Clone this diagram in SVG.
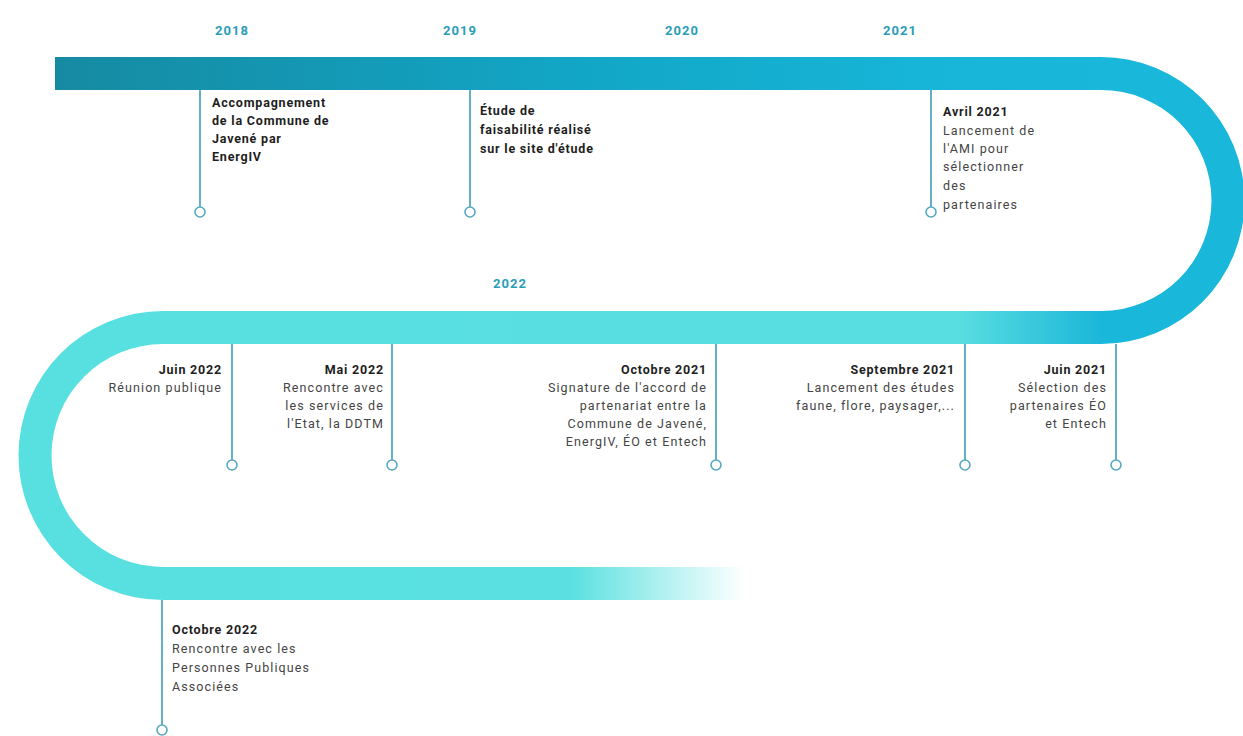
<svg xmlns="http://www.w3.org/2000/svg" width="1243" height="736" viewBox="0 0 1243 736">
<defs>
<linearGradient id="gTop" gradientUnits="userSpaceOnUse" x1="55" y1="0" x2="1101" y2="0">
<stop offset="0" stop-color="#168aa2"/>
<stop offset="0.5" stop-color="#12a6c6"/>
<stop offset="0.85" stop-color="#17b6d9"/>
<stop offset="1" stop-color="#19b7da"/>
</linearGradient>
<linearGradient id="gMid" gradientUnits="userSpaceOnUse" x1="163" y1="0" x2="1101" y2="0">
<stop offset="0" stop-color="#58e0e0"/>
<stop offset="0.85" stop-color="#58dde1"/>
<stop offset="0.92" stop-color="#3ccbdd"/>
<stop offset="1" stop-color="#1bb6d9"/>
</linearGradient>
<linearGradient id="gBot" gradientUnits="userSpaceOnUse" x1="163" y1="0" x2="745" y2="0">
<stop offset="0" stop-color="#58e0e0"/>
<stop offset="0.7" stop-color="#5ae0e0"/>
<stop offset="1" stop-color="#5ae0e0" stop-opacity="0"/>
</linearGradient>
</defs>
<style>
.yr{font-family:Roboto,"Liberation Sans",sans-serif;font-weight:700;font-size:13px;letter-spacing:1px;fill:#2a9db7}
.b{font-family:Roboto,"Liberation Sans",sans-serif;font-weight:700;font-size:12.5px;letter-spacing:0.8px;fill:#1e1e1e}
.r{font-family:Roboto,"Liberation Sans",sans-serif;font-weight:400;font-size:12.5px;letter-spacing:1.1px;fill:#444}
.e{text-anchor:end}
.ln{stroke:#3d9db6;stroke-width:1.6;fill:none}
.dot{fill:#fff;stroke:#56a8bf;stroke-width:1.6}
</style>
<g id="track">
<rect x="55" y="57" width="1046" height="33" fill="url(#gTop)"/>
<path d="M1101,57 A143.5,143.5 0 0 1 1101,344 L1101,311 A110.5,110.5 0 0 0 1101,90 Z" fill="#19b7da"/>
<rect x="163" y="311" width="938" height="33" fill="url(#gMid)"/>
<path d="M163,311 A144.5,144.5 0 0 0 163,600 L163,567 A111.5,111.5 0 0 1 163,344 Z" fill="#58e0e0"/>
<rect x="163" y="567" width="582" height="33" fill="url(#gBot)"/>
</g>
<g id="years">
<text class="yr" x="232" y="35" text-anchor="middle">2018</text>
<text class="yr" x="460" y="35" text-anchor="middle">2019</text>
<text class="yr" x="682" y="35" text-anchor="middle">2020</text>
<text class="yr" x="900" y="35" text-anchor="middle">2021</text>
<text class="yr" x="510" y="288" text-anchor="middle">2022</text>
</g>
<g id="connectors">
<line class="ln" x1="200" y1="90" x2="200" y2="207"/>
<line class="ln" x1="470" y1="90" x2="470" y2="207"/>
<line class="ln" x1="931" y1="90" x2="931" y2="207"/>
<line class="ln" x1="232" y1="344" x2="232" y2="460"/>
<line class="ln" x1="392" y1="344" x2="392" y2="460"/>
<line class="ln" x1="716" y1="344" x2="716" y2="460"/>
<line class="ln" x1="965" y1="344" x2="965" y2="460"/>
<line class="ln" x1="1116" y1="344" x2="1116" y2="460"/>
<line class="ln" x1="162" y1="600" x2="162" y2="725"/>
</g>
<g id="ev2018">
<circle class="dot" cx="200" cy="212" r="5"/>
<text class="b" x="212" y="107">Accompagnement</text>
<text class="b" x="212" y="125">de la Commune de</text>
<text class="b" x="212" y="143">Javené par</text>
<text class="b" x="212" y="161">EnergIV</text>
</g>
<g id="ev2019">
<circle class="dot" cx="470" cy="212" r="5"/>
<text class="b" x="480" y="115">Étude de</text>
<text class="b" x="480" y="134">faisabilité réalisé</text>
<text class="b" x="480" y="153">sur le site d'étude</text>
</g>
<g id="evAvril2021">
<circle class="dot" cx="931" cy="212" r="5"/>
<text class="b" x="943" y="116">Avril 2021</text>
<text class="r" x="943" y="135">Lancement de</text>
<text class="r" x="943" y="153">l'AMI pour</text>
<text class="r" x="943" y="171">sélectionner</text>
<text class="r" x="943" y="190">des</text>
<text class="r" x="943" y="209">partenaires</text>
</g>
<g id="evJuin2022">
<circle class="dot" cx="232" cy="465" r="5"/>
<text class="b e" x="222" y="374">Juin 2022</text>
<text class="r e" x="222" y="392">Réunion publique</text>
</g>
<g id="evMai2022">
<circle class="dot" cx="392" cy="465" r="5"/>
<text class="b e" x="384" y="374">Mai 2022</text>
<text class="r e" x="384" y="392">Rencontre avec</text>
<text class="r e" x="384" y="410">les services de</text>
<text class="r e" x="384" y="428">l'Etat, la DDTM</text>
</g>
<g id="evOct2021">
<circle class="dot" cx="716" cy="465" r="5"/>
<text class="b e" x="707" y="374">Octobre 2021</text>
<text class="r e" x="707" y="392">Signature de l'accord de</text>
<text class="r e" x="707" y="410">partenariat entre la</text>
<text class="r e" x="707" y="428">Commune de Javené,</text>
<text class="r e" x="707" y="446">EnergIV, ÉO et Entech</text>
</g>
<g id="evSept2021">
<circle class="dot" cx="965" cy="465" r="5"/>
<text class="b e" x="955" y="374">Septembre 2021</text>
<text class="r e" x="955" y="392">Lancement des études</text>
<text class="r e" x="955" y="410">faune, flore, paysager,...</text>
</g>
<g id="evJuin2021">
<circle class="dot" cx="1116" cy="465" r="5"/>
<text class="b e" x="1107" y="374">Juin 2021</text>
<text class="r e" x="1107" y="392">Sélection des</text>
<text class="r e" x="1107" y="410">partenaires ÉO</text>
<text class="r e" x="1107" y="428">et Entech</text>
</g>
<g id="evOct2022">
<circle class="dot" cx="162" cy="730" r="5"/>
<text class="b" x="172" y="634">Octobre 2022</text>
<text class="r" x="172" y="653">Rencontre avec les</text>
<text class="r" x="172" y="672">Personnes Publiques</text>
<text class="r" x="172" y="691">Associées</text>
</g>
</svg>
